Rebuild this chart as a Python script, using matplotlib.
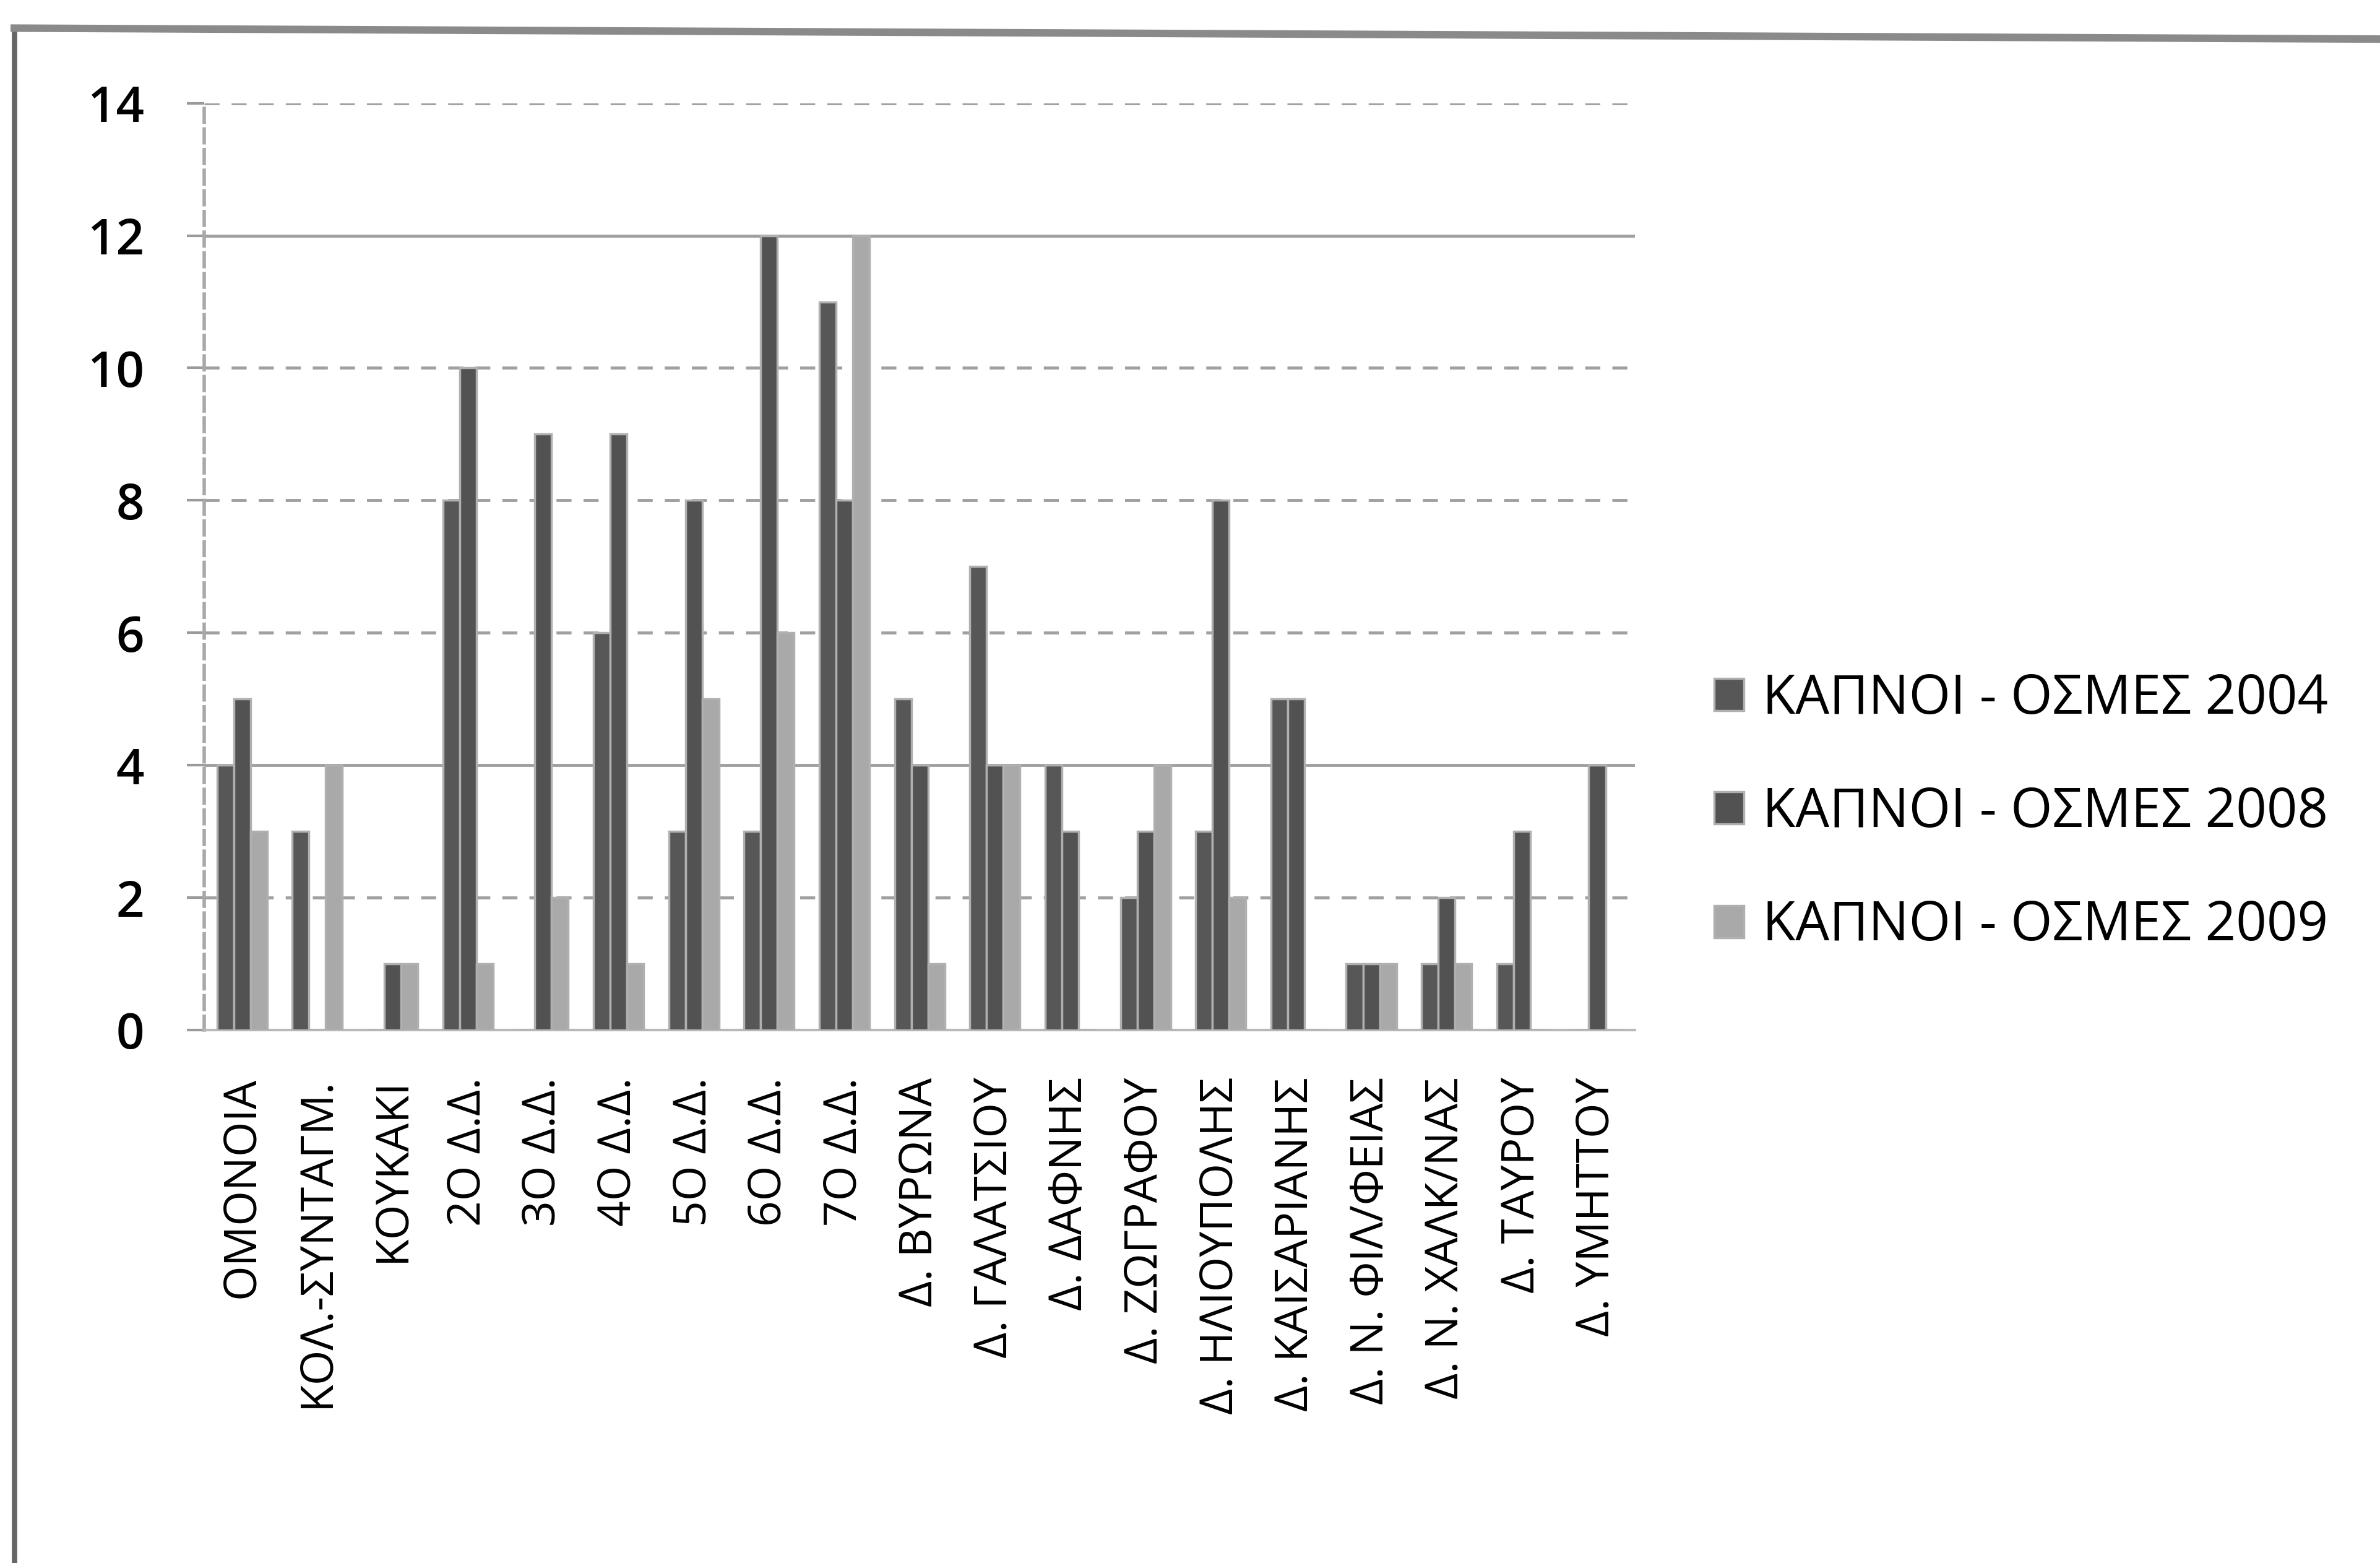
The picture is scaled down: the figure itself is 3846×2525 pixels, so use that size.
import matplotlib
import numpy as np

matplotlib.use("Agg")
import matplotlib.pyplot as plt
from matplotlib.lines import Line2D

# Κατηγορίες (περιοχές) και τιμές των τριών σειρών
categories = [
    "ΟΜΟΝΟΙΑ", "ΚΟΛ.-ΣΥΝΤΑΓΜ.", "ΚΟΥΚΑΚΙ", "2Ο Δ.Δ.", "3Ο Δ.Δ.", "4Ο Δ.Δ.",
    "5Ο Δ.Δ.", "6Ο Δ.Δ.", "7Ο Δ.Δ.", "Δ. ΒΥΡΩΝΑ", "Δ. ΓΑΛΑΤΣΙΟΥ", "Δ. ΔΑΦΝΗΣ",
    "Δ. ΖΩΓΡΑΦΟΥ", "Δ. ΗΛΙΟΥΠΟΛΗΣ", "Δ. ΚΑΙΣΑΡΙΑΝΗΣ", "Δ. Ν. ΦΙΛ/ΦΕΙΑΣ",
    "Δ. Ν. ΧΑΛΚ/ΝΑΣ", "Δ. ΤΑΥΡΟΥ", "Δ. ΥΜΗΤΤΟΥ",
]
values_2004 = [4, 3, 0, 8, 0, 6, 3, 3, 11, 5, 7, 4, 2, 3, 5, 1, 1, 1, 0]
values_2008 = [5, 0, 1, 10, 9, 9, 8, 12, 8, 4, 4, 3, 3, 8, 5, 1, 2, 3, 4]
values_2009 = [3, 4, 1, 1, 2, 1, 5, 6, 12, 1, 4, 0, 4, 2, 0, 1, 1, 0, 0]
series_labels = ["ΚΑΠΝΟΙ - ΟΣΜΕΣ 2004", "ΚΑΠΝΟΙ - ΟΣΜΕΣ 2008", "ΚΑΠΝΟΙ - ΟΣΜΕΣ 2009"]
y_ticks = [0, 2, 4, 6, 8, 10, 12, 14]

plt.rcParams["font.family"] = ["Open Sans", "DejaVu Sans"]

fig = plt.figure(figsize=(15.384, 10.1), dpi=250)
ax = fig.add_axes([0.0859, 0.341, 0.601, 0.593])

colors = ["#575757", "#525252", "#a9a9a9"]
x = np.arange(len(categories))
bar_w = 1 / 4.5
for k, (vals, col, lab) in enumerate(zip([values_2004, values_2008, values_2009], colors, series_labels)):
    ax.bar(x + (k - 1) * bar_w, vals, width=bar_w, color=col, edgecolor="#b0b0b0",
           linewidth=1.0, label=lab, zorder=3)

ax.set_xlim(-0.5, len(categories) - 0.5)
ax.set_ylim(0, 14)
ax.set_yticks(y_ticks)
ax.set_yticklabels([str(v) for v in y_ticks], fontsize=23, fontweight="semibold")
ax.set_xticks(x)
ax.set_xticklabels(categories, rotation=90, fontsize=21)
ax.tick_params(axis="x", length=0, pad=22)
ax.tick_params(axis="y", length=8, width=1.2, color="#9a9a9a", pad=20)

# Γραμμές πλέγματος
for v in y_ticks[1:]:
    ls = "-" if v in (4, 12) else (0, (5, 4))
    ax.axhline(v, color="#a0a0a0", linewidth=1.4, linestyle=ls, zorder=1)

for side in ("top", "right"):
    ax.spines[side].set_visible(False)
ax.spines["left"].set_color("#a8a8a8")
ax.spines["left"].set_linewidth(1.6)
ax.spines["left"].set_linestyle((0, (4, 2)))
ax.spines["bottom"].set_color("#b8b8b8")
ax.spines["bottom"].set_linewidth(1.2)

handles, labels = ax.get_legend_handles_labels()
fig.legend(handles, labels, loc="center left", bbox_to_anchor=(0.70, 0.48),
           frameon=False, fontsize=25, handlelength=0.55, handleheight=0.55,
           handletextpad=0.35, labelspacing=1.1)

# Περίγραμμα σαρωμένης σελίδας (αριστερά και πάνω)
fig.add_artist(Line2D([0.006, 0.006], [0.0, 0.982], color="#666666", linewidth=2.5))
fig.add_artist(Line2D([0.006, 1.0], [0.982, 0.975], color="#8a8a8a", linewidth=3.5))

fig.savefig("out.png", dpi=250, facecolor="white")
